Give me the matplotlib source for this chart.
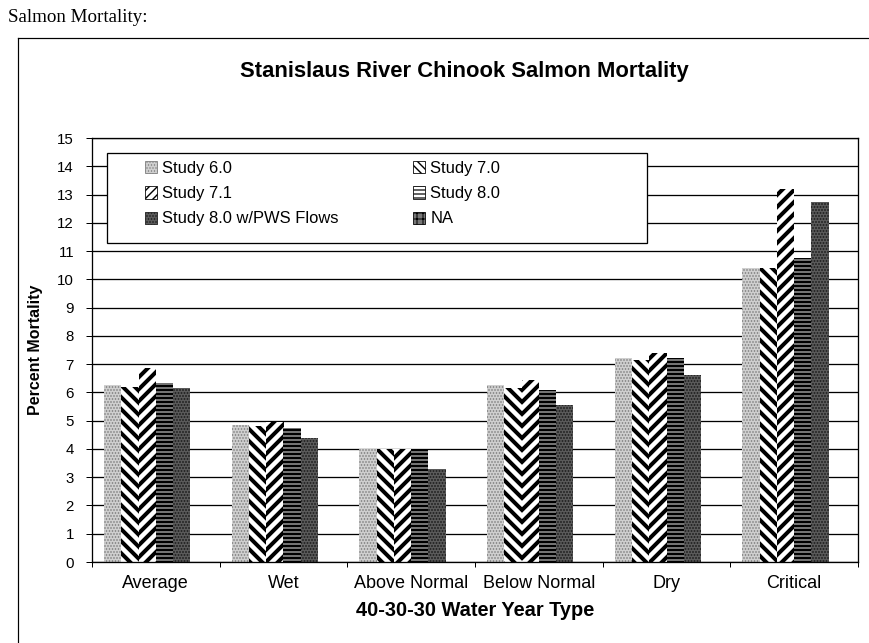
import numpy as np
import matplotlib
matplotlib.use("Agg")
import matplotlib.pyplot as plt
from matplotlib.patches import Rectangle, Patch
from matplotlib.lines import Line2D

categories = ["Average", "Wet", "Above Normal", "Below Normal", "Dry", "Critical"]
series_names = ["Study 6.0", "Study 7.0", "Study 7.1", "Study 8.0",
                "Study 8.0 w/PWS Flows", "NA"]
study_60 = [6.25, 4.85, 4.0, 6.25, 7.2, 10.4]
study_70 = [6.2, 4.8, 4.0, 6.15, 7.15, 10.4]
study_71 = [6.85, 4.95, 4.0, 6.45, 7.4, 13.2]
study_80 = [6.35, 4.75, 4.0, 6.1, 7.2, 10.75]
study_80_pws = [6.15, 4.4, 3.3, 5.55, 6.6, 12.75]
study_na = [np.nan] * 6
yticks = list(range(0, 16))

series = [study_60, study_70, study_71, study_80, study_80_pws, study_na]
styles = [
    dict(facecolor="#cfcfcf", edgecolor="#7a7a7a", hatch="....", hlw=1.0, lf="#cfcfcf", lh="....", llw=0.8),
    dict(facecolor="white", edgecolor="black", hatch="\\\\", hlw=4.0, lf="white", lh="\\\\\\", llw=1.4),
    dict(facecolor="white", edgecolor="black", hatch="//", hlw=4.0, lf="white", lh="///", llw=1.4),
    dict(facecolor="#9a9a9a", edgecolor="black", hatch="---", hlw=2.5, lf="white", lh="---", llw=1.2),
    dict(facecolor="#5a5a5a", edgecolor="#1a1a1a", hatch="....", hlw=1.2, lf="#5a5a5a", lh="....", llw=1.0),
    dict(facecolor="#777777", edgecolor="black", hatch="++", hlw=1.5, lf="#777777", lh="++", llw=1.0),
]

plt.rcParams["font.family"] = ["Liberation Sans", "DejaVu Sans"]
plt.rcParams["hatch.linewidth"] = 4.0

W, H, DPI = 869, 643, 72
fig = plt.figure(figsize=(W / DPI, H / DPI), dpi=DPI)
ax = fig.add_axes([92 / W, 1 - 562 / H, (858 - 92) / W, (562 - 138) / H])

x = np.arange(len(categories))
w = 0.135
handles = []
for i, (vals, st) in enumerate(zip(series, styles)):
    with plt.rc_context({"hatch.linewidth": st["hlw"]}):
        bars = ax.bar(x + (i - 2.5) * w, vals, width=w, facecolor=st["facecolor"],
                      edgecolor=st["edgecolor"], hatch=st["hatch"], linewidth=0,
                      zorder=2)
    for b in bars:
        if hasattr(b, "set_hatch_linewidth"):
            b.set_hatch_linewidth(st["hlw"])
    with plt.rc_context({"hatch.linewidth": st["llw"]}):
        h = Patch(facecolor=st["lf"], edgecolor=st["edgecolor"],
                  hatch=st["lh"], linewidth=0.8, label=series_names[i])
    if hasattr(h, "set_hatch_linewidth"):
        h.set_hatch_linewidth(st["llw"])
    handles.append(h)

ax.set_xlim(-0.5, len(categories) - 0.5)
ax.set_ylim(0, 15)
ax.set_yticks(yticks)
ax.set_yticklabels([str(t) for t in yticks], fontsize=15)
ax.yaxis.grid(True, color="black", linewidth=1.3, zorder=1)
ax.set_axisbelow(True)
ax.set_xticks(x)
ax.set_xticklabels(categories, fontsize=18)
ax.tick_params(axis="x", length=0, pad=13)
ax.set_xticks(np.arange(-0.5, len(categories) + 0.5, 1), minor=True)
ax.tick_params(axis="x", which="minor", length=5, width=1, direction="out")
ax.tick_params(axis="y", length=6, width=1, pad=12)
for sp in ax.spines.values():
    sp.set_color("black")
    sp.set_linewidth(1.3)

ax.set_ylabel("Percent Mortality", fontsize=16, fontweight="bold", labelpad=14)
ax.set_xlabel("40-30-30 Water Year Type", fontsize=20, fontweight="bold", labelpad=9)

# legend box
rect = Rectangle((107 / W, 1 - 243 / H), (647 - 107) / W, (243 - 153) / H,
                 transform=fig.transFigure, facecolor="white", edgecolor="black",
                 linewidth=1.3, zorder=3)
ax.add_artist(rect)
rect.set_clip_on(False)
order = [0, 2, 4, 1, 3, 5]
leg = ax.legend([handles[k] for k in order], [series_names[k] for k in order],
                ncol=2, loc="upper left", bbox_to_anchor=(145 / W, 1 - 161 / H),
                bbox_transform=fig.transFigure, frameon=False, fontsize=16.5,
                handlelength=0.75, handleheight=0.75, handletextpad=0.3,
                columnspacing=4.5, labelspacing=0.62, borderpad=0, borderaxespad=0)
leg.set_zorder(5)
for lp, k in zip(leg.get_patches(), order):
    if hasattr(lp, "set_hatch_linewidth"):
        lp.set_hatch_linewidth(styles[k]["llw"])

fig.text(0.5 * (92 + 858) / W - 0.012, 1 - 72 / H, "Stanislaus River Chinook Salmon Mortality",
         ha="center", va="center", fontsize=22, fontweight="bold")
fig.text(8 / W, 1 - 17 / H, "Salmon Mortality:", ha="left", va="center", fontsize=19,
         family=["Liberation Serif", "DejaVu Serif"])

# outer frame lines (top and left)
fig.add_artist(Line2D([18 / W, 1.0], [1 - 38 / H, 1 - 38 / H], transform=fig.transFigure,
                      color="black", linewidth=1.2))
fig.add_artist(Line2D([18 / W, 18 / W], [0, 1 - 38 / H], transform=fig.transFigure,
                      color="black", linewidth=1.2))

fig.savefig("out.png", dpi=DPI)
